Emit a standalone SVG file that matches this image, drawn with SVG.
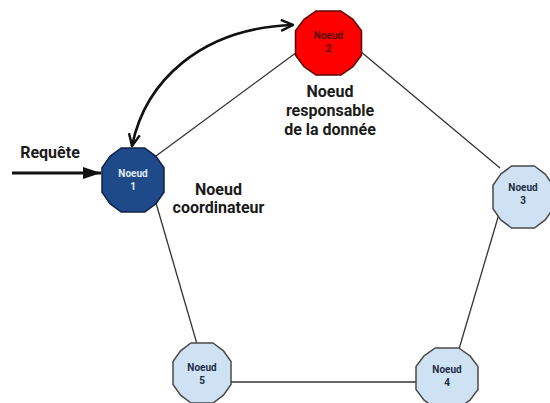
<svg xmlns="http://www.w3.org/2000/svg" xmlns:xlink="http://www.w3.org/1999/xlink" width="550" height="403" viewBox="0 0 550 403">
  <style>
    .edge { stroke: #333; stroke-width: 1.3; fill: none; }
    .label { font-family: Roboto, "Liberation Sans", sans-serif; font-weight: bold; font-size: 16px; fill: #1a1a1a; text-anchor: middle; }
    .ntext { font-family: Roboto, "Liberation Sans", sans-serif; font-weight: bold; font-size: 10px; text-anchor: middle; }
    .coord .shape { fill: #1f4a8a; stroke: #0f2345; stroke-width: 1.5; }
    .coord .ntext { fill: #e4ecf7; }
    .owner .shape { fill: #ff0000; stroke: #5a0505; stroke-width: 1.5; }
    .owner .ntext { fill: #5a0000; }
    .plain .shape { fill: #cfe2f3; stroke: #4a4a4a; stroke-width: 1.5; }
    .plain .ntext { fill: #1c2d44; }
  </style>
  <defs>
    <!-- 12-sided node outline, unit radius 1 -->
    <polygon id="gon" points="0.38,-1 0.74,-0.74 1,-0.38 1,0.38 0.74,0.74 0.38,1 -0.38,1 -0.74,0.74 -1,0.38 -1,-0.38 -0.74,-0.74 -0.38,-1" vector-effect="non-scaling-stroke"/>
    <marker id="vee" viewBox="0 0 14 14" refX="13" refY="7" markerWidth="14" markerHeight="14" markerUnits="userSpaceOnUse" orient="auto-start-reverse">
      <path d="M1,1.5 L13,7 L1,12.5" fill="none" stroke="#111" stroke-width="2.4" stroke-linejoin="miter"/>
    </marker>
    <marker id="tri" viewBox="0 0 18 12" refX="18" refY="6" markerWidth="18" markerHeight="12" markerUnits="userSpaceOnUse" orient="auto">
      <path d="M0,0 L18,6 L0,12 Z" fill="#111"/>
    </marker>
  </defs>

  <!-- ring links and request arrows -->
  <g id="connectors">
    <line class="edge" x1="156" y1="156" x2="297" y2="52"/>
    <line class="edge" x1="360" y1="51" x2="500" y2="168"/>
    <line class="edge" x1="499" y1="214" x2="459" y2="349"/>
    <line class="edge" x1="230" y1="382" x2="416" y2="382"/>
    <line class="edge" x1="197" y1="344" x2="156" y2="203"/>
    <line x1="12" y1="173" x2="101" y2="173" stroke="#111" stroke-width="3" marker-end="url(#tri)"/>
    <path d="M132,146 C145,82 200,28 293,25" fill="none" stroke="#111" stroke-width="2.6" marker-start="url(#vee)" marker-end="url(#vee)"/>
  </g>

  <g id="node1" class="coord">
    <use xlink:href="#gon" class="shape" transform="translate(133,180) scale(31,32)"/>
    <text class="ntext" x="133" y="177">Noeud</text>
    <text class="ntext" x="133" y="190">1</text>
  </g>
  <g id="node2" class="owner">
    <use xlink:href="#gon" class="shape" transform="translate(328.5,43) scale(33,32)"/>
    <text class="ntext" x="328.5" y="39">Noeud</text>
    <text class="ntext" x="328.5" y="52">2</text>
  </g>
  <g id="node3" class="plain">
    <use xlink:href="#gon" class="shape" transform="translate(523,197) scale(30,31)"/>
    <text class="ntext" x="523" y="191">Noeud</text>
    <text class="ntext" x="523" y="204">3</text>
  </g>
  <g id="node4" class="plain">
    <use xlink:href="#gon" class="shape" transform="translate(447,378) scale(31,30)"/>
    <text class="ntext" x="447" y="373">Noeud</text>
    <text class="ntext" x="447" y="386">4</text>
  </g>
  <g id="node5" class="plain">
    <use xlink:href="#gon" class="shape" transform="translate(202,373) scale(29,30)"/>
    <text class="ntext" x="202" y="371">Noeud</text>
    <text class="ntext" x="202" y="384">5</text>
  </g>

  <g id="labels">
    <text class="label" x="50" y="158">Requête</text>
    <text class="label" x="330" y="97">Noeud</text>
    <text class="label" x="330" y="116">responsable</text>
    <text class="label" x="330" y="135">de la donnée</text>
    <text class="label" x="218.5" y="195">Noeud</text>
    <text class="label" x="218.5" y="213">coordinateur</text>
  </g>
</svg>
